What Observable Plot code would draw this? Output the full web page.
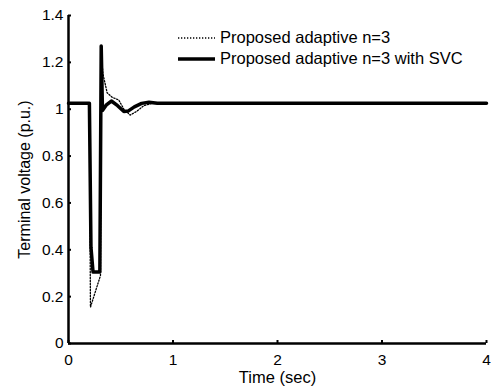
<!DOCTYPE html>
<html>
<head>
<meta charset="utf-8">
<script src="https://cdn.jsdelivr.net/npm/d3@7"></script>
<script src="https://cdn.jsdelivr.net/npm/@observablehq/plot@0.6"></script>
<style>
  html, body { margin: 0; padding: 0; background: #fff; }
  #wrap { position: relative; width: 491px; height: 389px; font-family: "Liberation Sans", Arial, sans-serif; }
  #legend { position: absolute; left: 178px; top: 27px; font-size: 16.5px; color: #000; }
  #legend .row { display: flex; align-items: center; height: 21px; }
  #legend svg { margin-right: 5px; }
</style>
</head>
<body>
<div id="wrap"></div>
<script>
// Series: proposed adaptive n=3 (dotted)
const timeNoSvc = [0, 0.20, 0.21, 0.306, 0.312, 0.33, 0.37, 0.42, 0.48, 0.53, 0.59, 0.65, 0.72, 0.80, 4.0];
const voltNoSvc = [1.025, 1.025, 0.155, 0.29, 1.25, 1.15, 1.07, 1.05, 1.04, 1.00, 0.975, 0.99, 1.015, 1.025, 1.025];

// Series: proposed adaptive n=3 with SVC (solid)
const timeSvc = [0, 0.20, 0.215, 0.235, 0.30, 0.313, 0.325, 0.36, 0.41, 0.47, 0.53, 0.57, 0.63, 0.70, 0.77, 0.85, 4.0];
const voltSvc = [1.025, 1.025, 0.41, 0.305, 0.305, 1.27, 0.995, 1.017, 1.035, 1.015, 0.99, 0.992, 1.01, 1.025, 1.03, 1.025, 1.025];

const xTicks = [0, 1, 2, 3, 4];
const yTicks = [0, 0.2, 0.4, 0.6, 0.8, 1.0, 1.2, 1.4];
const legendLabels = ["Proposed adaptive n=3", "Proposed adaptive n=3 with SVC"];

const noSvc = timeNoSvc.map((t, i) => ({t, v: voltNoSvc[i]}));
const svc = timeSvc.map((t, i) => ({t, v: voltSvc[i]}));

const chart = Plot.plot({
  width: 491,
  height: 389,
  marginLeft: 68,
  marginRight: 5,
  marginTop: 15,
  marginBottom: 46,
  style: { fontFamily: "Liberation Sans, Arial, sans-serif", fontSize: "15.5px", color: "#000", background: "#fff" },
  x: { domain: [0, 4] },
  y: { domain: [0, 1.4] },
  marks: [
    Plot.axisX({ ticks: xTicks, tickSize: -3, tickPadding: 13, tickFormat: d => String(d), label: null, strokeWidth: 2, fontSize: 15.5 }),
    Plot.axisX({ ticks: [], label: "Time (sec)", labelAnchor: "center", labelArrow: "none", labelOffset: 39, fontSize: 16.5 }),
    Plot.axisY({ ticks: yTicks, tickSize: -3, tickPadding: 8, tickFormat: d => String(+d.toFixed(1)), label: null, strokeWidth: 2, fontSize: 15.5 }),
    Plot.axisY({ ticks: [], label: "Terminal voltage (p.u.)", labelAnchor: "center", labelArrow: "none", labelOffset: 50, fontSize: 16 }),
    Plot.line(noSvc, { x: "t", y: "v", stroke: "#000", strokeWidth: 1.3, strokeDasharray: "1.3,1.7" }),
    Plot.line(svc, { x: "t", y: "v", stroke: "#000", strokeWidth: 3.5 }),
    Plot.ruleX([0], { stroke: "#000", strokeWidth: 2.5 }),
    Plot.ruleY([0], { stroke: "#000", strokeWidth: 2.5 })
  ]
});
const wrap = document.getElementById("wrap");
wrap.appendChild(chart);

const legend = document.createElement("div");
legend.id = "legend";
const styles = [
  { w: 1.3, dash: "1.3,1.7" },
  { w: 3.5, dash: null }
];
legendLabels.forEach((lab, i) => {
  const row = document.createElement("div");
  row.className = "row";
  row.innerHTML = `<svg width="37" height="8"><line x1="0" x2="37" y1="4" y2="4" stroke="#000" stroke-width="${styles[i].w}" ${styles[i].dash ? `stroke-dasharray="${styles[i].dash}"` : ""}/></svg><span>${lab}</span>`;
  legend.appendChild(row);
});
wrap.appendChild(legend);
</script>
</body>
</html>
